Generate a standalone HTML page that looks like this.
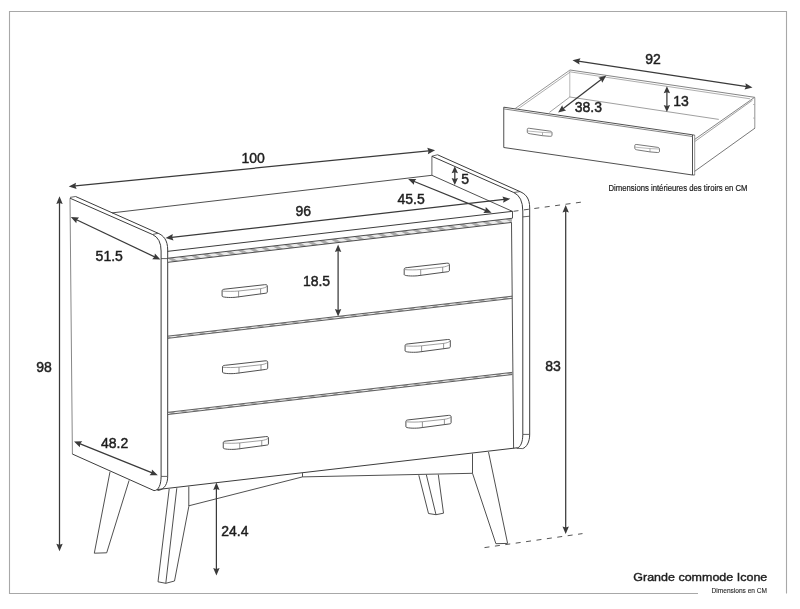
<!DOCTYPE html>
<html><head><meta charset="utf-8"><style>
html,body{margin:0;padding:0;background:#fff;}
svg{display:block;font-family:"Liberation Sans",sans-serif;will-change:transform;}
</style></head><body>
<svg width="800" height="609" viewBox="0 0 800 609">
<defs><pattern id="hb" width="7" height="7" patternUnits="userSpaceOnUse" patternTransform="rotate(-60)"><rect width="7" height="7" fill="#ebebeb"/><rect width="3" height="7" fill="#ababab"/></pattern></defs>
<rect width="800" height="609" fill="#fff"/>
<polyline points="698,593.5 9.5,593.5 9.5,11.5 786.5,11.5 786.5,593.5" fill="none" stroke="#a8a8a8" stroke-width="1.1"/>
<text x="633.3" y="580.8" font-size="11.8" text-anchor="start" fill="#1e1e1e" stroke="#1e1e1e" stroke-width="0.4" textLength="134" lengthAdjust="spacingAndGlyphs">Grande commode Icone</text>
<text x="711.6" y="592.8" font-size="6.5" text-anchor="start" fill="#2a2a2a" stroke="#2a2a2a" stroke-width="0.12" textLength="55.4" lengthAdjust="spacingAndGlyphs">Dimensions en CM</text>
<line x1="70.00" y1="198.20" x2="72.40" y2="454.00" stroke="#888" stroke-width="1.0" />
<line x1="70.00" y1="197.40" x2="75.60" y2="196.50" stroke="#3c3c3c" stroke-width="0.8" />
<path d="M70,198.2 L152.5,234.5 Q161.1,238.4 161.1,251 L161.1,476.4 C161.1,484 158.8,490.8 154,490.6 L72.3,454" stroke="#3c3c3c" stroke-width="1.0" fill="none" />
<path d="M75.6,196.5 L158.1,233.25 C163.5,235.6 167.7,240 167.7,250 L167.7,476.4 C167.7,483 165,489.8 157.5,490.5" stroke="#3c3c3c" stroke-width="1.0" fill="none" />
<line x1="152.50" y1="234.50" x2="158.10" y2="233.25" stroke="#3c3c3c" stroke-width="0.8" />
<line x1="161.10" y1="476.40" x2="167.70" y2="476.40" stroke="#3c3c3c" stroke-width="0.8" />
<line x1="161.10" y1="258.60" x2="167.70" y2="258.60" stroke="#3c3c3c" stroke-width="0.8" />
<line x1="112.00" y1="212.90" x2="431.90" y2="175.30" stroke="#3c3c3c" stroke-width="0.9" />
<line x1="167.50" y1="251.36" x2="512.50" y2="211.34" stroke="#3c3c3c" stroke-width="1.0" />
<line x1="512.50" y1="211.34" x2="512.50" y2="218.04" stroke="#3c3c3c" stroke-width="0.9" />
<polygon points="168,258.20 512.5,218.24 511.5,222.45 168,262.30" fill="url(#hb)" stroke="none"/>
<line x1="168.00" y1="258.20" x2="512.50" y2="218.24" stroke="#3c3c3c" stroke-width="0.9" />
<line x1="168.00" y1="262.30" x2="511.50" y2="222.45" stroke="#3c3c3c" stroke-width="0.9" />
<polygon points="168,336.20 512.2,296.27 512.2,298.27 168,338.20" fill="url(#hb)" stroke="none"/>
<line x1="168.00" y1="336.10" x2="512.20" y2="296.17" stroke="#3c3c3c" stroke-width="0.8" />
<line x1="168.00" y1="338.30" x2="512.20" y2="298.37" stroke="#3c3c3c" stroke-width="0.8" />
<polygon points="168,412.40 512.2,372.47 512.2,374.47 168,414.40" fill="url(#hb)" stroke="none"/>
<line x1="168.00" y1="412.30" x2="512.20" y2="372.37" stroke="#3c3c3c" stroke-width="0.8" />
<line x1="168.00" y1="414.50" x2="512.20" y2="374.57" stroke="#3c3c3c" stroke-width="0.8" />
<line x1="157.00" y1="489.58" x2="517.00" y2="447.82" stroke="#3c3c3c" stroke-width="1.0" />
<line x1="511.50" y1="222.45" x2="513.60" y2="448.40" stroke="#3c3c3c" stroke-width="0.9" />
<line x1="431.90" y1="156.30" x2="431.90" y2="175.30" stroke="#3c3c3c" stroke-width="0.8" />
<line x1="431.90" y1="156.20" x2="437.50" y2="154.75" stroke="#3c3c3c" stroke-width="0.8" />
<path d="M437.5,154.75 L520,191.6 C525.5,194 529.7,198 529.7,208 L529.7,434.4 C529.7,442 526.5,447.5 522.5,448.6" stroke="#3c3c3c" stroke-width="1.0" fill="none" />
<path d="M431.9,156.3 L513.75,192.5 Q522.8,196.6 522.8,211 L522.8,434.4 C522.8,442 520.5,447.6 516.8,448.1" stroke="#3c3c3c" stroke-width="1.0" fill="none" />
<line x1="513.75" y1="192.50" x2="520.00" y2="191.60" stroke="#3c3c3c" stroke-width="0.8" />
<line x1="516.80" y1="448.30" x2="522.50" y2="448.60" stroke="#3c3c3c" stroke-width="0.8" />
<line x1="522.80" y1="434.40" x2="529.70" y2="434.40" stroke="#3c3c3c" stroke-width="0.8" />
<line x1="522.80" y1="216.90" x2="529.70" y2="216.20" stroke="#3c3c3c" stroke-width="0.8" />
<line x1="431.90" y1="175.30" x2="512.50" y2="211.40" stroke="#3c3c3c" stroke-width="0.9" />
<path d="M169.2,489 L158,581.8 L165.8,583.3 L174.5,581 L188.8,506.5 L188.8,486.5" stroke="#3c3c3c" stroke-width="0.9" fill="none" />
<line x1="176.80" y1="488.20" x2="165.80" y2="583.30" stroke="#3c3c3c" stroke-width="0.9" />
<path d="M110,471.8 L94.3,553.2 L106.7,552.8 L129.1,480.4" stroke="#3c3c3c" stroke-width="0.9" fill="none" />
<path d="M188.8,505.8 L302.5,476.9 L302.5,473.1" stroke="#3c3c3c" stroke-width="0.9" fill="none" />
<path d="M302.5,476.9 L472.5,473.3 L472.5,453.6" stroke="#3c3c3c" stroke-width="0.9" fill="none" />
<path d="M472.5,473.3 L495.9,543.7 L507.6,543.4 L488.5,452" stroke="#3c3c3c" stroke-width="0.9" fill="none" />
<path d="M418.8,475.2 L428.5,513.5 L436,514.7 L443.5,513.2 L438.3,474.6" stroke="#3c3c3c" stroke-width="0.9" fill="none" />
<line x1="426.30" y1="474.60" x2="436.00" y2="514.70" stroke="#3c3c3c" stroke-width="0.9" />
<path d="M222.1,290.8 C222.1,289.6 223.1,289.3 225.1,289.1 L264.6,284.70000000000005 C266.6,284.5 267.3,285.0 267.3,286.0 L267.3,292.0 C267.3,292.8 266.6,293.1 265.1,293.3 L235.1,297.3 C229.1,297.8 222.1,297.3 222.1,296.1 Z" stroke="#3c3c3c" stroke-width="0.9" fill="none" />
<path d="M222.6,291.1 C226.1,291.5 234.1,291.5 238.6,291.0 L260.6,288.6 C263.1,288.3 266.1,287.40000000000003 267.1,286.3" stroke="#777" stroke-width="0.7" fill="none" />
<line x1="238.60" y1="291.10" x2="238.60" y2="297.30" stroke="#666" stroke-width="0.7" />
<line x1="260.60" y1="288.60" x2="260.60" y2="294.30" stroke="#666" stroke-width="0.7" />
<path d="M404.2,269.3 C404.2,268.1 405.2,267.8 407.2,267.6 L446.7,263.20000000000005 C448.7,263.0 449.4,263.5 449.4,264.5 L449.4,270.5 C449.4,271.3 448.7,271.6 447.2,271.8 L417.2,275.8 C411.2,276.3 404.2,275.8 404.2,274.6 Z" stroke="#3c3c3c" stroke-width="0.9" fill="none" />
<path d="M404.7,269.6 C408.2,270.0 416.2,270.0 420.7,269.5 L442.7,267.1 C445.2,266.8 448.2,265.90000000000003 449.2,264.8" stroke="#777" stroke-width="0.7" fill="none" />
<line x1="420.70" y1="269.60" x2="420.70" y2="275.80" stroke="#666" stroke-width="0.7" />
<line x1="442.70" y1="267.10" x2="442.70" y2="272.80" stroke="#666" stroke-width="0.7" />
<path d="M222.5,366.95 C222.5,365.75 223.5,365.45 225.5,365.25 L265.0,360.85 C267.0,360.65 267.7,361.15 267.7,362.15 L267.7,368.15 C267.7,368.95 267.0,369.25 265.5,369.45 L235.5,373.45 C229.5,373.95 222.5,373.45 222.5,372.25 Z" stroke="#3c3c3c" stroke-width="0.9" fill="none" />
<path d="M223.0,367.25 C226.5,367.65 234.5,367.65 239.0,367.15 L261.0,364.75 C263.5,364.45 266.5,363.55 267.5,362.45" stroke="#777" stroke-width="0.7" fill="none" />
<line x1="239.00" y1="367.25" x2="239.00" y2="373.45" stroke="#666" stroke-width="0.7" />
<line x1="261.00" y1="364.75" x2="261.00" y2="370.45" stroke="#666" stroke-width="0.7" />
<path d="M405.1,345.59999999999997 C405.1,344.4 406.1,344.09999999999997 408.1,343.9 L447.6,339.5 C449.6,339.29999999999995 450.3,339.79999999999995 450.3,340.79999999999995 L450.3,346.79999999999995 C450.3,347.59999999999997 449.6,347.9 448.1,348.09999999999997 L418.1,352.09999999999997 C412.1,352.59999999999997 405.1,352.09999999999997 405.1,350.9 Z" stroke="#3c3c3c" stroke-width="0.9" fill="none" />
<path d="M405.6,345.9 C409.1,346.29999999999995 417.1,346.29999999999995 421.6,345.79999999999995 L443.6,343.4 C446.1,343.09999999999997 449.1,342.2 450.1,341.09999999999997" stroke="#777" stroke-width="0.7" fill="none" />
<line x1="421.60" y1="345.90" x2="421.60" y2="352.10" stroke="#666" stroke-width="0.7" />
<line x1="443.60" y1="343.40" x2="443.60" y2="349.10" stroke="#666" stroke-width="0.7" />
<path d="M223.25,442.7 C223.25,441.5 224.25,441.2 226.25,441.0 L265.75,436.6 C267.75,436.4 268.45,436.9 268.45,437.9 L268.45,443.9 C268.45,444.7 267.75,445.0 266.25,445.2 L236.25,449.2 C230.25,449.7 223.25,449.2 223.25,448.0 Z" stroke="#3c3c3c" stroke-width="0.9" fill="none" />
<path d="M223.75,443.0 C227.25,443.4 235.25,443.4 239.75,442.9 L261.75,440.5 C264.25,440.2 267.25,439.3 268.25,438.2" stroke="#777" stroke-width="0.7" fill="none" />
<line x1="239.75" y1="443.00" x2="239.75" y2="449.20" stroke="#666" stroke-width="0.7" />
<line x1="261.75" y1="440.50" x2="261.75" y2="446.20" stroke="#666" stroke-width="0.7" />
<path d="M405.9,421.5 C405.9,420.3 406.9,420.0 408.9,419.8 L448.4,415.40000000000003 C450.4,415.2 451.09999999999997,415.7 451.09999999999997,416.7 L451.09999999999997,422.7 C451.09999999999997,423.5 450.4,423.8 448.9,424.0 L418.9,428.0 C412.9,428.5 405.9,428.0 405.9,426.8 Z" stroke="#3c3c3c" stroke-width="0.9" fill="none" />
<path d="M406.4,421.8 C409.9,422.2 417.9,422.2 422.4,421.7 L444.4,419.3 C446.9,419.0 449.9,418.1 450.9,417.0" stroke="#777" stroke-width="0.7" fill="none" />
<line x1="422.40" y1="421.80" x2="422.40" y2="428.00" stroke="#666" stroke-width="0.7" />
<line x1="444.40" y1="419.30" x2="444.40" y2="425.00" stroke="#666" stroke-width="0.7" />
<line x1="513.50" y1="211.30" x2="583.10" y2="201.90" stroke="#555" stroke-width="1.0" stroke-dasharray="5,5.5"/>
<line x1="484.50" y1="547.60" x2="582.50" y2="533.60" stroke="#555" stroke-width="1.0" stroke-dasharray="5,5.5"/>
<line x1="72.73" y1="186.21" x2="431.12" y2="150.69" stroke="#3a3a3a" stroke-width="1.25" />
<path d="M68.75,186.60 L76.63,189.04 L75.32,185.95 L76.00,182.67 Z" fill="#3a3a3a" stroke="none"/>
<path d="M435.10,150.30 L427.22,147.86 L428.53,150.95 L427.85,154.23 Z" fill="#3a3a3a" stroke="none"/>
<line x1="59.50" y1="200.30" x2="59.50" y2="547.30" stroke="#3a3a3a" stroke-width="1.25" />
<path d="M59.50,196.30 L56.30,203.90 L59.50,202.90 L62.70,203.90 Z" fill="#3a3a3a" stroke="none"/>
<path d="M59.50,551.30 L62.70,543.70 L59.50,544.70 L56.30,543.70 Z" fill="#3a3a3a" stroke="none"/>
<line x1="74.41" y1="218.81" x2="156.79" y2="257.89" stroke="#3a3a3a" stroke-width="1.25" />
<path d="M70.80,217.10 L76.30,223.25 L76.76,219.93 L79.04,217.47 Z" fill="#3a3a3a" stroke="none"/>
<path d="M160.40,259.60 L154.90,253.45 L154.44,256.77 L152.16,259.23 Z" fill="#3a3a3a" stroke="none"/>
<line x1="169.57" y1="237.65" x2="506.33" y2="199.20" stroke="#3a3a3a" stroke-width="1.25" />
<path d="M165.60,238.10 L173.51,240.42 L172.16,237.35 L172.79,234.06 Z" fill="#3a3a3a" stroke="none"/>
<path d="M510.30,198.75 L502.39,196.43 L503.74,199.50 L503.11,202.79 Z" fill="#3a3a3a" stroke="none"/>
<line x1="411.81" y1="180.50" x2="487.89" y2="211.30" stroke="#3a3a3a" stroke-width="1.25" />
<path d="M408.10,179.00 L413.94,184.82 L414.22,181.48 L416.35,178.89 Z" fill="#3a3a3a" stroke="none"/>
<path d="M491.60,212.80 L485.76,206.98 L485.48,210.32 L483.35,212.91 Z" fill="#3a3a3a" stroke="none"/>
<line x1="454.80" y1="170.30" x2="454.80" y2="181.00" stroke="#3a3a3a" stroke-width="1.25" />
<path d="M454.80,166.30 L451.60,173.30 L454.80,172.30 L458.00,173.30 Z" fill="#3a3a3a" stroke="none"/>
<path d="M454.80,185.00 L458.00,178.00 L454.80,179.00 L451.60,178.00 Z" fill="#3a3a3a" stroke="none"/>
<line x1="338.10" y1="248.50" x2="338.10" y2="312.50" stroke="#3a3a3a" stroke-width="1.25" />
<path d="M338.10,244.50 L334.90,252.10 L338.10,251.10 L341.30,252.10 Z" fill="#3a3a3a" stroke="none"/>
<path d="M338.10,316.50 L341.30,308.90 L338.10,309.90 L334.90,308.90 Z" fill="#3a3a3a" stroke="none"/>
<line x1="565.70" y1="209.00" x2="565.70" y2="530.00" stroke="#3a3a3a" stroke-width="1.25" />
<path d="M565.70,205.00 L562.50,212.60 L565.70,211.60 L568.90,212.60 Z" fill="#3a3a3a" stroke="none"/>
<path d="M565.70,534.00 L568.90,526.40 L565.70,527.40 L562.50,526.40 Z" fill="#3a3a3a" stroke="none"/>
<line x1="77.71" y1="442.90" x2="154.09" y2="473.70" stroke="#3a3a3a" stroke-width="1.25" />
<path d="M74.00,441.40 L79.85,447.21 L80.12,443.87 L82.25,441.28 Z" fill="#3a3a3a" stroke="none"/>
<path d="M157.80,475.20 L151.95,469.39 L151.68,472.73 L149.55,475.32 Z" fill="#3a3a3a" stroke="none"/>
<line x1="216.40" y1="486.40" x2="216.40" y2="571.60" stroke="#3a3a3a" stroke-width="1.25" />
<path d="M216.40,482.40 L213.20,490.00 L216.40,489.00 L219.60,490.00 Z" fill="#3a3a3a" stroke="none"/>
<path d="M216.40,575.60 L219.60,568.00 L216.40,569.00 L213.20,568.00 Z" fill="#3a3a3a" stroke="none"/>
<text x="241.5" y="162.6" font-size="14" text-anchor="start" fill="#1e1e1e" stroke="#1e1e1e" stroke-width="0.45" >100</text>
<text x="36.3" y="372" font-size="14" text-anchor="start" fill="#1e1e1e" stroke="#1e1e1e" stroke-width="0.45" >98</text>
<text x="95.6" y="261" font-size="14" text-anchor="start" fill="#1e1e1e" stroke="#1e1e1e" stroke-width="0.45" >51.5</text>
<text x="295.5" y="215.7" font-size="14" text-anchor="start" fill="#1e1e1e" stroke="#1e1e1e" stroke-width="0.45" >96</text>
<text x="397.5" y="203.6" font-size="14" text-anchor="start" fill="#1e1e1e" stroke="#1e1e1e" stroke-width="0.45" >45.5</text>
<text x="461.3" y="184.3" font-size="14" text-anchor="start" fill="#1e1e1e" stroke="#1e1e1e" stroke-width="0.45" >5</text>
<text x="302.9" y="286.3" font-size="14" text-anchor="start" fill="#1e1e1e" stroke="#1e1e1e" stroke-width="0.45" >18.5</text>
<text x="545.2" y="370.7" font-size="14" text-anchor="start" fill="#1e1e1e" stroke="#1e1e1e" stroke-width="0.45" >83</text>
<text x="101" y="448" font-size="14" text-anchor="start" fill="#1e1e1e" stroke="#1e1e1e" stroke-width="0.45" >48.2</text>
<text x="221.3" y="536" font-size="14" text-anchor="start" fill="#1e1e1e" stroke="#1e1e1e" stroke-width="0.45" >24.4</text>
<path d="M503.75,107.2 L692.5,134.8 L692.5,175 L503.75,147.5 Z" stroke="#3c3c3c" stroke-width="0.9" fill="none" />
<line x1="503.75" y1="108.90" x2="692.50" y2="136.50" stroke="#777" stroke-width="0.9" />
<line x1="694.70" y1="135.20" x2="694.70" y2="175.00" stroke="#777" stroke-width="0.8" />
<line x1="692.50" y1="134.80" x2="694.70" y2="135.20" stroke="#3c3c3c" stroke-width="0.8" />
<line x1="692.50" y1="175.00" x2="694.70" y2="175.00" stroke="#3c3c3c" stroke-width="0.8" />
<line x1="515.00" y1="108.70" x2="570.00" y2="70.00" stroke="#7a7a7a" stroke-width="0.8" />
<line x1="517.60" y1="109.20" x2="570.80" y2="71.60" stroke="#999" stroke-width="0.8" />
<line x1="570.00" y1="70.00" x2="754.60" y2="97.30" stroke="#666" stroke-width="0.8" />
<line x1="571.00" y1="72.00" x2="750.00" y2="98.80" stroke="#999" stroke-width="0.8" />
<line x1="569.80" y1="71.00" x2="569.80" y2="97.00" stroke="#999" stroke-width="0.7" />
<line x1="569.80" y1="97.00" x2="549.40" y2="112.40" stroke="#777" stroke-width="0.7" />
<line x1="569.80" y1="97.00" x2="718.80" y2="119.40" stroke="#777" stroke-width="0.7" />
<line x1="754.80" y1="97.50" x2="754.80" y2="128.10" stroke="#777" stroke-width="0.8" />
<line x1="754.60" y1="97.30" x2="694.70" y2="139.40" stroke="#666" stroke-width="0.8" />
<line x1="752.50" y1="100.20" x2="694.70" y2="141.60" stroke="#888" stroke-width="0.8" />
<circle cx="753.8" cy="104.4" r="0.5" fill="#888"/><circle cx="753.8" cy="118.1" r="0.5" fill="#888"/>
<line x1="755.00" y1="128.10" x2="694.70" y2="171.30" stroke="#555" stroke-width="0.8" />
<path d="M527.3,129.4 C527.3,128.4 527.8,128.20000000000002 529.3,128.3 L549.8,131.1 C551.3,131.3 552.0,131.9 552.0,132.9 L552.0,135.1 C552.0,136.1 551.3,136.4 549.8,136.3 L542.5,135.70000000000002 L530.3,133.8 C528.3,133.5 527.3,133.0 527.3,132.20000000000002 Z" stroke="#555" stroke-width="0.8" fill="none" />
<line x1="542.50" y1="132.40" x2="542.50" y2="135.70" stroke="#777" stroke-width="0.6" />
<path d="M527.8,131.0 L542.5,132.4 L551.6999999999999,132.8" stroke="#888" stroke-width="0.6" fill="none" />
<path d="M634.8,145.6 C634.8,144.6 635.3,144.4 636.8,144.5 L657.3,147.29999999999998 C658.8,147.5 659.5,148.1 659.5,149.1 L659.5,151.29999999999998 C659.5,152.29999999999998 658.8,152.6 657.3,152.5 L650.0,151.9 L637.8,150.0 C635.8,149.7 634.8,149.2 634.8,148.4 Z" stroke="#555" stroke-width="0.8" fill="none" />
<line x1="650.00" y1="148.60" x2="650.00" y2="151.90" stroke="#777" stroke-width="0.6" />
<path d="M635.3,147.2 L650.0,148.6 L659.1999999999999,149.0" stroke="#888" stroke-width="0.6" fill="none" />
<line x1="576.45" y1="60.85" x2="748.55" y2="86.90" stroke="#3a3a3a" stroke-width="1.25" />
<path d="M572.50,60.25 L579.54,64.55 L579.03,61.24 L580.49,58.22 Z" fill="#3a3a3a" stroke="none"/>
<path d="M752.50,87.50 L745.46,83.20 L745.97,86.51 L744.51,89.53 Z" fill="#3a3a3a" stroke="none"/>
<line x1="561.28" y1="110.07" x2="603.12" y2="78.03" stroke="#3a3a3a" stroke-width="1.25" />
<path d="M558.10,112.50 L566.08,110.42 L563.34,108.49 L562.19,105.34 Z" fill="#3a3a3a" stroke="none"/>
<path d="M606.30,75.60 L598.32,77.68 L601.06,79.61 L602.21,82.76 Z" fill="#3a3a3a" stroke="none"/>
<line x1="666.90" y1="90.20" x2="666.90" y2="108.00" stroke="#3a3a3a" stroke-width="1.25" />
<path d="M666.90,86.20 L663.70,93.20 L666.90,92.20 L670.10,93.20 Z" fill="#3a3a3a" stroke="none"/>
<path d="M666.90,112.00 L670.10,105.00 L666.90,106.00 L663.70,105.00 Z" fill="#3a3a3a" stroke="none"/>
<text x="645.2" y="64.3" font-size="14" text-anchor="start" fill="#1e1e1e" stroke="#1e1e1e" stroke-width="0.45" >92</text>
<text x="574.8" y="111.6" font-size="14" text-anchor="start" fill="#1e1e1e" stroke="#1e1e1e" stroke-width="0.45" >38.3</text>
<text x="673.2" y="105.8" font-size="14" text-anchor="start" fill="#1e1e1e" stroke="#1e1e1e" stroke-width="0.45" >13</text>
<text x="608.5" y="190.5" font-size="8.4" text-anchor="start" fill="#222" stroke="#222" stroke-width="0.2" textLength="139" lengthAdjust="spacingAndGlyphs">Dimensions intérieures des tiroirs en CM</text>
</svg>
</body></html>
